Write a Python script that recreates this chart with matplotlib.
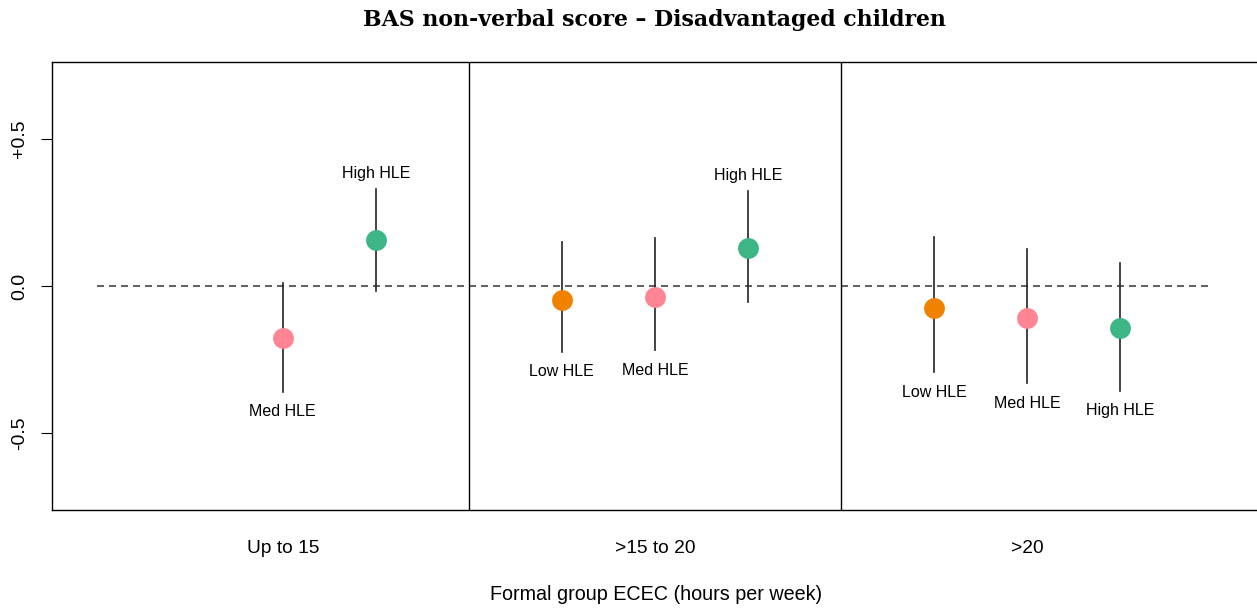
import matplotlib
matplotlib.use("Agg")
import matplotlib.pyplot as plt
import numpy as np

groups = ["Up to 15", ">15 to 20", ">20"]
hle_levels = ["Low HLE", "Med HLE", "High HLE"]
colors = {"Low HLE": "#F08200", "Med HLE": "#FF8494", "High HLE": "#3DB585"}

# (group index, HLE level, estimate, lower CI, upper CI)
pt_group = [0, 0, 1, 1, 1, 2, 2, 2]
pt_level = ["Med HLE", "High HLE", "Low HLE", "Med HLE", "High HLE", "Low HLE", "Med HLE", "High HLE"]
estimate = [-0.177, 0.156, -0.048, -0.037, 0.129, -0.075, -0.109, -0.143]
ci_low = [-0.36, -0.017, -0.224, -0.218, -0.054, -0.293, -0.330, -0.357]
ci_high = [0.010, 0.330, 0.150, 0.163, 0.323, 0.167, 0.126, 0.078]

y_ticks = [-0.5, 0.0, 0.5]
y_tick_labels = ["-0.5", "0.0", "+0.5"]

plt.rcParams["font.family"] = ["Liberation Sans", "DejaVu Sans"]

fig = plt.figure(figsize=(12.57, 6.11), dpi=100)
ax = fig.add_axes([52 / 1257, 1 - 510 / 611, 1 - 52 / 1257 + 0.002, (510 - 62) / 611])

def xpos(g, lvl):
    return 1 + g * 4 + hle_levels.index(lvl)

ax.plot([0, 12], [0, 0], color="#444444", ls=(0, (4.2, 3)), lw=1.2, zorder=1)

for g, lvl, e, lo, hi in zip(pt_group, pt_level, estimate, ci_low, ci_high):
    x = xpos(g, lvl)
    ax.plot([x, x], [lo, hi], color="#222222", lw=1.2, zorder=2)
    ax.plot([x], [e], "o", ms=15, color=colors[lvl], mec="none", zorder=3)
    if e > 0.05:
        ax.annotate(lvl, (x, hi), xytext=(0, 5.5), textcoords="offset points",
                    ha="center", va="bottom", fontsize=11.5)
    else:
        ax.annotate(lvl, (x, lo), xytext=(0, -9), textcoords="offset points",
                    ha="center", va="top", fontsize=11.5)

for d in [4, 8]:
    ax.axvline(d, color="black", lw=1)

ax.set_xlim(-0.48, 12.5)
ax.set_ylim(-0.762, 0.762)
ax.set_yticks(y_ticks)
ax.set_yticklabels(y_tick_labels, rotation=90, va="center", fontsize=14)
ax.tick_params(axis="y", length=8, pad=9)
ax.set_xticks([])
ax.spines["right"].set_visible(False)
for s in ["left", "top", "bottom"]:
    ax.spines[s].set_linewidth(1)

for i, g in enumerate(groups):
    ax.text(2 + i * 4, -0.893, g, ha="center", va="center", fontsize=13.8,
            transform=ax.transData)

fig.text(656 / 1257, 1 - 595 / 611, "Formal group ECEC (hours per week)",
         ha="center", va="center", fontsize=14.2)
fig.text(654 / 1257, 1 - 20 / 611, "BAS non-verbal score \u2013 Disadvantaged children",
         ha="center", va="center", fontsize=15.8, fontweight="bold", family=["DejaVu Serif"])

fig.savefig("out.png", dpi=100)
